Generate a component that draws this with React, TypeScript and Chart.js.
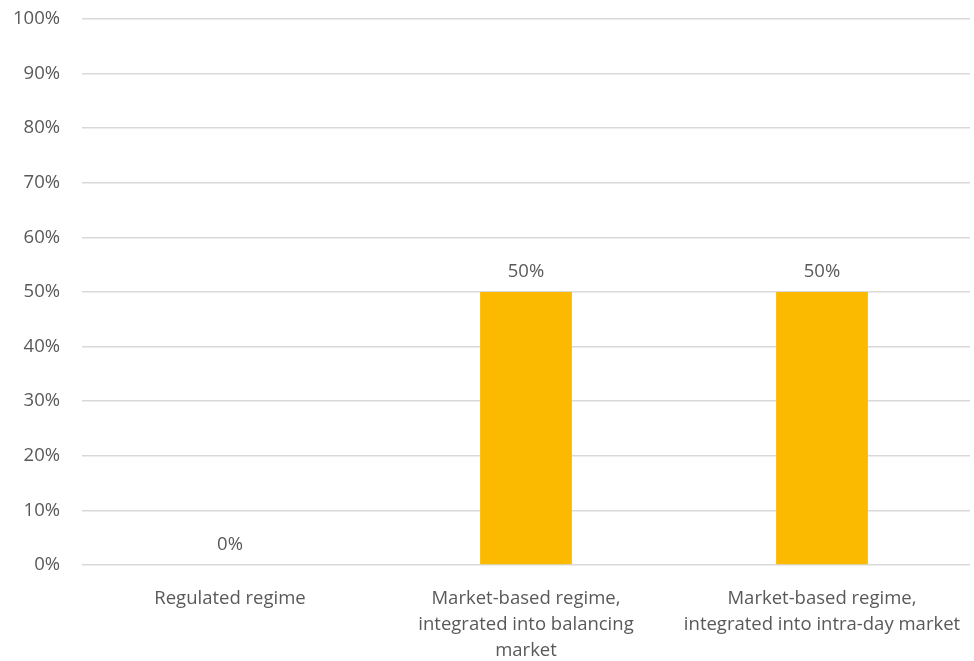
import React, { useEffect, useRef } from "react";
import { Chart, registerables } from "chart.js";

Chart.register(...registerables);

const categories: (string | string[])[] = [
  "Regulated regime",
  ["Market-based regime,", "integrated into balancing", "market"],
  ["Market-based regime,", "integrated into intra-day market"],
];
const values = [0, 50, 50];
const yTicks = [0, 10, 20, 30, 40, 50, 60, 70, 80, 90, 100];

const FONT = "'Open Sans', 'Noto Sans', sans-serif";
const TEXT = "#595959";

const labelPlugin = {
  id: "barLabels",
  afterDatasetsDraw(chart: any) {
    const ctx = chart.ctx;
    const meta = chart.getDatasetMeta(0);
    ctx.save();
    ctx.font = `18.5px ${FONT}`;
    ctx.fillStyle = TEXT;
    ctx.textAlign = "center";
    ctx.textBaseline = "middle";
    meta.data.forEach((bar: any, i: number) => {
      ctx.fillText(`${values[i]}%`, bar.x, bar.y - 20);
    });
    ctx.restore();
  },
};

export default function App() {
  const ref = useRef<HTMLCanvasElement>(null);
  useEffect(() => {
    if (!ref.current) return;
    const chart = new Chart(ref.current, {
      type: "bar",
      data: {
        labels: categories,
        datasets: [
          {
            data: values,
            backgroundColor: "#FBB900",
            categoryPercentage: 1,
            barPercentage: 0.31,
          },
        ],
      },
      options: {
        animation: false,
        responsive: false,
        maintainAspectRatio: false,
        layout: { padding: { top: 19, right: 4, left: 0, bottom: 0 } },
        plugins: { legend: { display: false }, tooltip: { enabled: false } },
        scales: {
          x: {
            grid: { display: false, drawTicks: false },
            border: { display: false },
            ticks: {
              color: TEXT,
              font: { family: FONT, size: 18.5, lineHeight: 1.4 },
              padding: 21,
              maxRotation: 0,
              autoSkip: false,
            },
            afterFit(scale: any) {
              scale.height = 96;
              scale.paddingLeft = 0;
              scale.paddingRight = 0;
            },
          },
          y: {
            min: 0,
            max: 100,
            afterBuildTicks(scale: any) {
              scale.ticks = yTicks.map((v) => ({ value: v }));
            },
            grid: { color: "#D9D9D9", lineWidth: 1.5, drawTicks: false },
            border: { display: false },
            ticks: {
              color: TEXT,
              font: { family: FONT, size: 18.5 },
              padding: 22,
              callback: (v: any) => `${v}%`,
            },
            afterFit(scale: any) {
              scale.width = 82;
              scale.paddingTop = 0;
              scale.paddingBottom = 0;
            },
          },
        },
      },
      plugins: [labelPlugin],
    });
    return () => chart.destroy();
  }, []);
  return (
    <div style={{ position: "fixed", left: 0, top: 0, width: 974, height: 661, background: "#fff" }}>
      <canvas ref={ref} width={974} height={661} />
    </div>
  );
}
